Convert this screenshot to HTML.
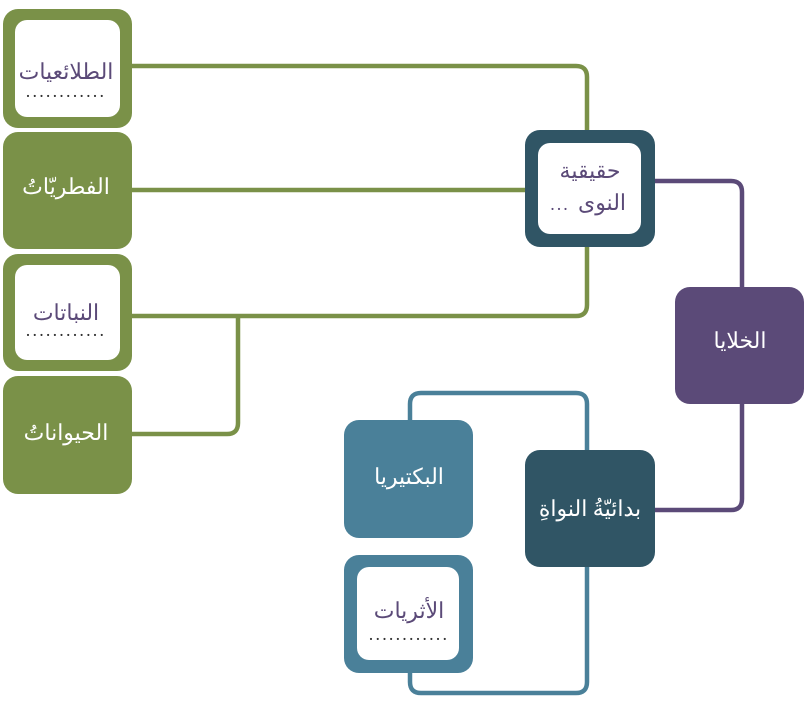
<!DOCTYPE html>
<html><head><meta charset="utf-8"><style>
body{margin:0;width:809px;height:707px;background:#fff;overflow:hidden}
svg{position:absolute;left:0;top:0}
text{font-family:"Liberation Serif","DejaVu Serif",serif;text-anchor:middle}
</style></head><body>
<svg width="809" height="707" viewBox="0 0 809 707">
<g fill="none" stroke-width="4.5" stroke-linejoin="round">
<path d="M130 66 H576 Q587 66 587 77 V132" stroke="#7a9148"/>
<path d="M130 190 H527" stroke="#7a9148"/>
<path d="M130 316 H576 Q587 316 587 305 V245" stroke="#7a9148"/>
<path d="M238 316 V423 Q238 434 227 434 H130" stroke="#7a9148"/>
<path d="M653 181 H731 Q742 181 742 192 V289" stroke="#5b4a78"/>
<path d="M653 510 H731 Q742 510 742 499 V402" stroke="#5b4a78"/>
<path d="M410 422 V404 Q410 393 421 393 H576 Q587 393 587 404 V452" stroke="#4a8099"/>
<path d="M587 565 V682 Q587 693 576 693 H421 Q410 693 410 682 V670" stroke="#4a8099"/>
</g>
<rect x="3" y="9" width="129" height="119" rx="15" fill="#7a9148"/>
<rect x="15" y="20" width="105" height="97" rx="12" fill="#fff"/>
<rect x="3" y="132" width="129" height="117" rx="15" fill="#7a9148"/>
<rect x="3" y="254" width="129" height="117" rx="15" fill="#7a9148"/>
<rect x="15" y="265" width="105" height="95" rx="12" fill="#fff"/>
<rect x="3" y="376" width="129" height="118" rx="15" fill="#7a9148"/>
<rect x="525" y="130" width="130" height="117" rx="15" fill="#305565"/>
<rect x="538" y="143" width="103" height="91" rx="12" fill="#fff"/>
<rect x="675" y="287" width="129" height="117" rx="15" fill="#5b4a78"/>
<rect x="525" y="450" width="130" height="117" rx="15" fill="#305565"/>
<rect x="344" y="420" width="129" height="118" rx="15" fill="#4a8099"/>
<rect x="344" y="555" width="129" height="118" rx="15" fill="#4a8099"/>
<rect x="357" y="567" width="102" height="93" rx="12" fill="#fff"/>
<g font-size="22" fill="#5b4a78">
<text x="66" y="79">الطلائعيات</text>
<text x="66" y="320">النباتات</text>
<text x="590" y="178">حقيقية</text>
<text x="602" y="210">النوى</text>
<text x="560" y="210" font-size="18" letter-spacing="2">...</text>
<text x="409" y="618">الأثريات</text>
</g>
<g font-size="18" fill="#333" letter-spacing="2.2">
<text x="66" y="97">............</text>
<text x="66" y="336">............</text>
<text x="409" y="640">............</text>
</g>
<g font-size="22" fill="#fff">
<text x="66" y="194">الفطريّاتُ</text>
<text x="66" y="440">الحيواناتُ</text>
<text x="740" y="348">الخلايا</text>
<text x="590" y="516">بدائيّةُ النواةِ</text>
<text x="409" y="484">البكتيريا</text>
</g>
</svg>
</body></html>
